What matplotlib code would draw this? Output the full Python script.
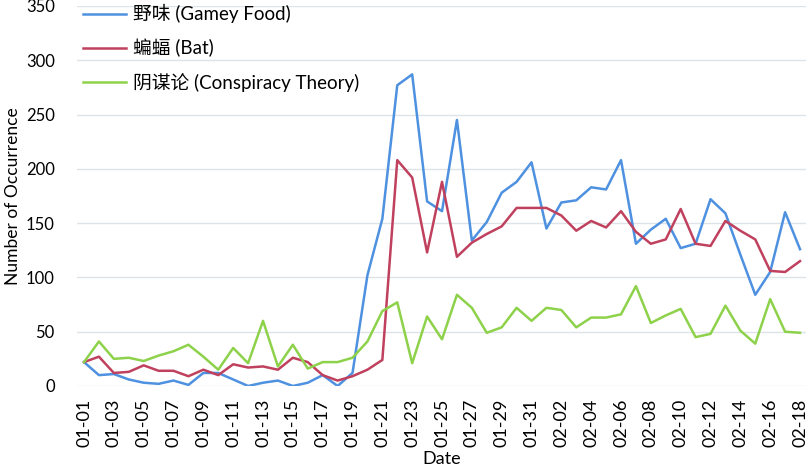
import matplotlib
matplotlib.use("Agg")
import matplotlib.pyplot as plt

plt.rcParams['font.family'] = ['Lato', 'Noto Sans CJK SC', 'DejaVu Sans']

months = ['01'] * 31 + ['02'] * 18
days = list(range(1, 32)) + list(range(1, 19))
dates = [f"{m}-{d:02d}" for m, d in zip(months, days)]

gamey = [22, 10, 11, 6, 3, 2, 5, 1, 12, 12, 6, 0, 3, 5, 0, 3, 10, 0, 12, 102,
         154, 277, 287, 170, 161, 245, 134, 151, 178, 188, 206, 145, 169, 171,
         183, 181, 208, 131, 144, 154, 127, 131, 172, 159, 121, 84, 105, 160, 126]
bat = [22, 27, 12, 13, 19, 14, 14, 9, 15, 10, 20, 17, 18, 15, 26, 22, 10, 5, 9, 15,
       24, 208, 192, 123, 188, 119, 132, 140, 147, 164, 164, 164, 157, 143,
       152, 146, 161, 142, 131, 135, 163, 131, 129, 152, 143, 135, 106, 105, 115]
conspiracy = [22, 41, 25, 26, 23, 28, 32, 38, 27, 15, 35, 21, 60, 18, 38, 16, 22, 22, 26, 41,
              69, 77, 21, 64, 43, 84, 72, 49, 54, 72, 60, 72, 70, 54,
              63, 63, 66, 92, 58, 65, 71, 45, 48, 74, 51, 39, 80, 50, 49]

labels = ['野味 (Gamey Food)', '蝙蝠 (Bat)', '阴谋论 (Conspiracy Theory)']
colors = ['#4E91E0', '#C0415E', '#8DD24A']

fig = plt.figure(figsize=(8.08, 4.66), dpi=100)
ax = fig.add_axes([0.0953, 0.1717, 0.9022, 0.8155])

x = list(range(len(dates)))
for series, lab, col in zip([gamey, bat, conspiracy], labels, colors):
    ax.plot(x, series, color=col, lw=1.8, label=lab)

ax.set_xlim(-0.47, 48.4)
ax.set_ylim(0, 350)
ax.set_yticks(range(0, 351, 50))
ax.set_xticks(x[::2])
ax.set_xticklabels(dates[::2], rotation=90, fontsize=13)
ax.tick_params(axis='y', labelsize=12, length=0, pad=16)
ax.tick_params(axis='x', length=0, pad=9)
ax.grid(axis='y', color='#DDE3E6', lw=1)
ax.set_axisbelow(True)
for s in ax.spines.values():
    s.set_visible(False)

ax.set_xlabel('Date', fontsize=13)
ax.set_ylabel('Number of Occurrence', fontsize=12.5)
ax.xaxis.set_label_coords(0.5, -0.17)
ax.yaxis.set_label_coords(-0.0766, 0.5)

leg = ax.legend(loc='upper left', bbox_to_anchor=(0.008, 1.005), frameon=False,
                fontsize=13.5, handlelength=2.3, labelspacing=0.83,
                borderaxespad=0, borderpad=0, handletextpad=0.4)

fig.savefig('out.png', dpi=100)
